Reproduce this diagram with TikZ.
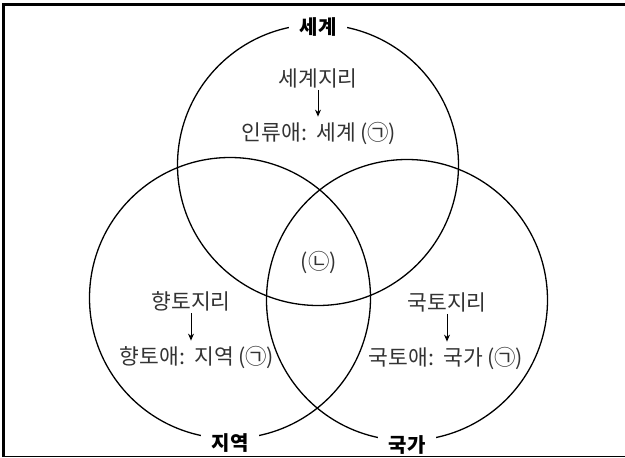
\documentclass[tikz,border=0pt]{standalone}
\usepackage{fontspec}
\usepackage{tikz}
\usetikzlibrary{arrows.meta,positioning}
\setmainfont{Noto Sans CJK KR}

\begin{document}
\begin{tikzpicture}[x=1pt,y=-1pt,
    ring/.style={circle,draw,line width=1.3pt,minimum size=281pt,inner sep=0pt},
    title/.style={fill=white,inner xsep=11pt,inner ysep=1pt,font=\fontsize{20}{24}\selectfont\bfseries},
    item/.style={inner sep=1pt,text=black!80,font=\fontsize{21.5}{25}\selectfont},
    flow/.style={-{Stealth[length=7pt,width=6pt]},line width=0.9pt,shorten >=5pt,shorten <=1pt}]
        \useasboundingbox (0,0) rectangle (625,458);

        \node[ring] (w) at (318,165) {};
        \node[ring] (r) at (230,298) {};
        \node[ring] (n) at (407,300) {};

        \node[title] (wt) at (318,27) {세계};
        \node[title] (rt) at (230,443) {지역};
        \node[title] (nt) at (407,445) {국가};

        \node[item] (wg) at (318,78) {세계지리};
        \node[item] (wl) at (319,134) {인류애:\ \ 세계\,(㉠)};
        \node[item] (rg) at (191,301) {향토지리};
        \node[item] (rl) at (197,358) {향토애:\ \ 지역\,(㉠)};
        \node[item] (ng) at (447,302) {국토지리};
        \node[item] (nl) at (446,359) {국토애:\ \ 국가\,(㉠)};
        \node[item] (mid) at (319,263) {(㉡)};

        \draw[flow] (wg.south) -- (wg.south |- wl.north);
        \draw[flow] (rg.south) -- (rg.south |- rl.north);
        \draw[flow] (ng.south) -- (ng.south |- nl.north);

        \draw[line width=3pt] (3.2,457) -- (3.2,4.5) -- (625,4.5);
        \draw[line width=1.5pt] (3.2,456.7) -- (625,456.7);
      \end{tikzpicture}
\end{document}
